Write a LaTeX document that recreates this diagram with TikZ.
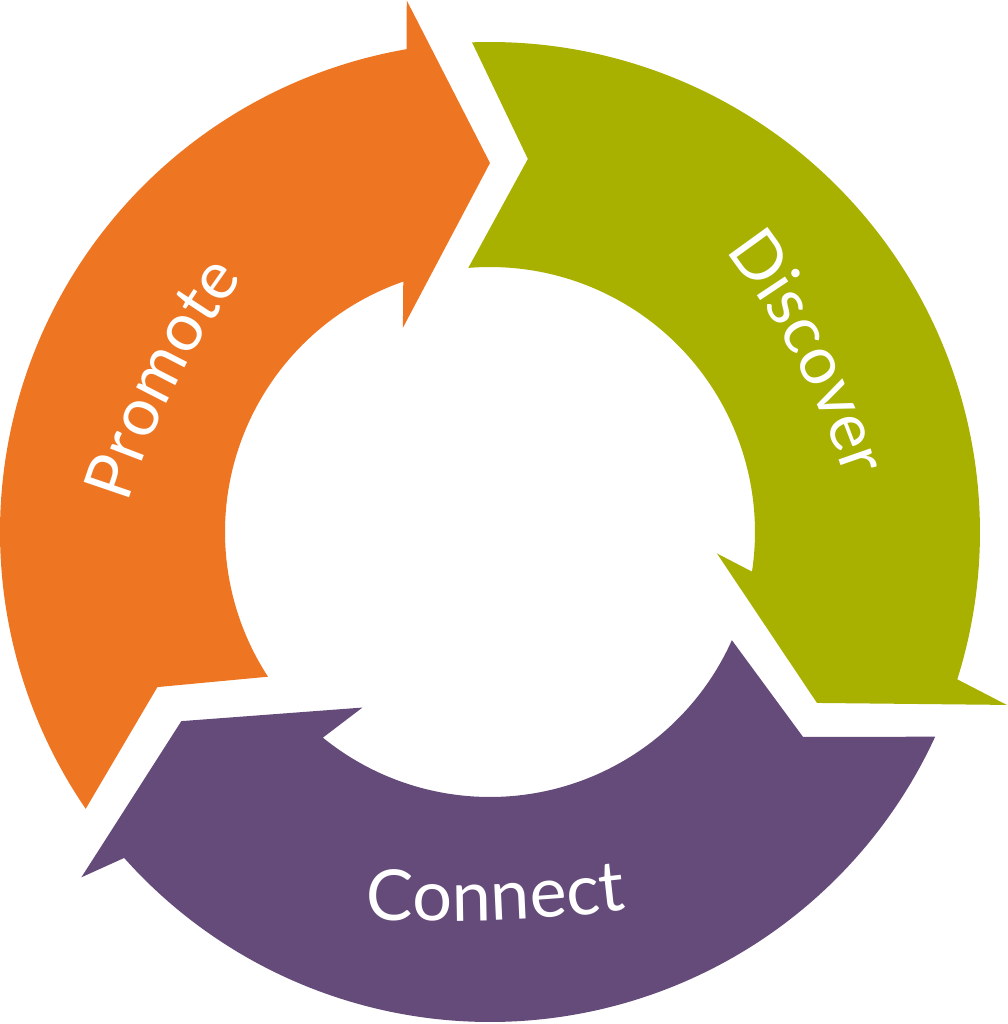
\documentclass[tikz,border=0pt]{standalone}
\usepackage{fontspec}
\setmainfont{Lato}
\usetikzlibrary{decorations.text}
\definecolor{promote}{HTML}{EE7623}
\definecolor{discover}{HTML}{A8B000}
\definecolor{connect}{HTML}{644B79}
\tikzset{
  word/.style 2 args={decorate, decoration={text along path, text align=center,
      text color=white, text={|\fontsize{#2}{#2}\selectfont|#1}}}
}

\begin{document}
\begin{tikzpicture}
  \useasboundingbox (-4.90,-4.92) rectangle (5.18,5.32);
  \coordinate (O) at (0,0);
  \fill[promote] (90:3.69) -- (98.9:5.38) -- (99.8:4.90)
    arc[start angle=99.8, end angle=214.4, radius=4.90] -- (205:3.67) -- (213.1:2.65)
    arc[start angle=213.1, end angle=109.1, radius=2.65] -- (113.1:2.22) -- cycle;
  \fill[discover] (-27.6:3.69) -- (-18.5:5.45) -- (-17.5:4.90)
    arc[start angle=-17.5, end angle=92.1, radius=4.90] -- (84.2:3.75) -- (94.7:2.65)
    arc[start angle=94.7, end angle=-8.6, radius=2.65] -- (-5.4:2.28) -- cycle;
  \fill[connect] (211.5:3.62) -- (220.2:5.35) -- (221.7:4.90)
    arc[start angle=221.7, end angle=335.3, radius=4.90] -- (326.8:3.74) -- (335.9:2.65)
    arc[start angle=335.9, end angle=230.9, radius=2.65] -- (234:2.17) -- cycle;
  \coordinate (p1) at (-3.80,-0.33);
  \coordinate (p2) at (-2.08,3.05);
  \coordinate (d1) at (1.96,3.30);
  \coordinate (d2) at (3.74,-0.06);
  \coordinate (c1) at (-1.94,-3.83);
  \coordinate (c2) at (2.06,-3.69);
  \path[word={Promote}{19}] (p1) to[bend left=12] (p2);
  \path[word={Discover}{19}] (d1) to[bend left=12] (d2);
  \path[word={Connect}{20}] (c1) to[bend right=6] (c2);
\end{tikzpicture}
\end{document}
